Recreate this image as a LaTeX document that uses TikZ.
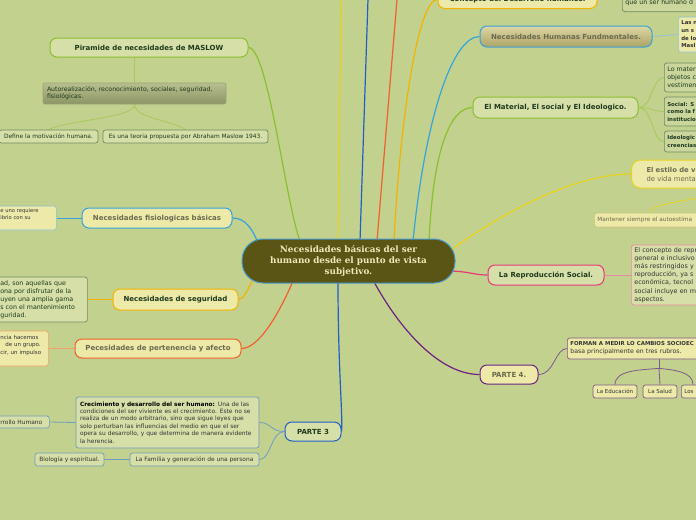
\documentclass[tikz,border=0pt]{standalone}
\usepackage{fontspec}
\setmainfont{DejaVu Sans}
\newfontfamily\cserif{DejaVu Serif}
\usetikzlibrary{calc}
\newcommand\myfs[2]{\fontsize{#1}{#2}\selectfont}
\definecolor{bgc}{HTML}{C3D18E}
\definecolor{lyel}{HTML}{ECE9A9}
\definecolor{lgrn}{HTML}{D6DFA7}
\definecolor{dgtxt}{HTML}{1E3A1E}
\definecolor{gtxt}{HTML}{6B6A4E}
\definecolor{dtxt}{HTML}{333333}
\definecolor{cgreen}{HTML}{8CBF30}
\definecolor{cgreen2}{HTML}{A6C95A}
\definecolor{cblue}{HTML}{36A3DA}
\definecolor{cdblue}{HTML}{1F5FC8}
\definecolor{cgold}{HTML}{F2B300}
\definecolor{cyel}{HTML}{E6D21E}
\definecolor{cored}{HTML}{F0602E}
\definecolor{cpink}{HTML}{E8387A}
\definecolor{cpurp}{HTML}{6B2380}
\definecolor{sgb}{HTML}{6F8B5E}
\definecolor{sbb}{HTML}{6E9EBE}
\definecolor{lbb}{HTML}{8CC4D8}
\definecolor{cor2}{HTML}{F0A466}
\definecolor{pinkl}{HTML}{E88AA4}
\definecolor{purl}{HTML}{7D5A8A}
\definecolor{matf}{HTML}{CAD69C}
\definecolor{cenf}{HTML}{5A5514}
\definecolor{cenb}{HTML}{4A9BD0}
\definecolor{centx}{HTML}{EEE8BA}
\definecolor{agt}{HTML}{B8BF8E}
\definecolor{agb}{HTML}{8C9564}
\definecolor{agd}{HTML}{9AA276}
\definecolor{nhft}{HTML}{DDD7A4}
\definecolor{nhfb}{HTML}{ACA367}
\definecolor{mantb}{HTML}{C8C27A}
\pgfdeclarelayer{bgl}
\pgfdeclarelayer{lines}
\pgfsetlayers{bgl,lines,main}
\tikzset{
 main/.style={line width=1.2pt},
 sec/.style={line width=0.8pt},
 topic/.style={draw, line width=1pt, rounded corners=7pt, inner sep=0pt, align=center, font=\bfseries\myfs{7}{8}},
 sub/.style={draw, line width=0.7pt, rounded corners=2.5pt, inner sep=0pt, align=center},
 txt/.style={draw, line width=0.7pt, rounded corners=2.5pt, inner xsep=3pt, inner ysep=1pt, align=left, anchor=west},
}
\begin{document}
\begin{tikzpicture}[x=1pt,y=-1pt]
\begin{pgfonlayer}{bgl}
\fill[bgc] (0,0) rectangle (696,520);
\end{pgfonlayer}
\useasboundingbox (0,0) rectangle (696,520);

% central node
\node[draw=cenb, fill=cenf, line width=1pt, rounded corners=21pt, minimum width=213, minimum height=44,
  text=centx, align=center, inner sep=0pt, font={\cserif\bfseries\myfs{8.8}{11}}] (c) at (348.5,261)
  {Necesidades básicas del ser\\humano desde el punto de vista\\subjetivo.};

% ---- left side
\node[topic, draw=cgreen, fill=lgrn, text=dgtxt, minimum width=198, minimum height=19] (maslow) at (149,47.5) {Piramide de necesidades de MASLOW};
\node[draw=agd, line width=0.6pt, rounded corners=2pt, top color=agt, bottom color=agb, minimum width=183, minimum height=21,
  text width=175, align=left, inner xsep=4pt, inner ysep=1pt, text=dgtxt, font=\myfs{6.2}{7.2}] (auto) at (134.5,93.5)
  {Autorealización, reconocimiento, sociales, seguridad,\\fisiológicas.};
\node[sub, draw=sgb, fill=lgrn, text=dgtxt, minimum width=99, minimum height=13, font=\myfs{5.9}{7}] (define) at (48.5,136.5) {Define la motivación humana.};
\node[sub, draw=sgb, fill=lgrn, text=dgtxt, minimum width=165, minimum height=13, font=\myfs{5.9}{7}] (teoria) at (185.5,136.5) {Es una teoria propuesta por Abraham Maslow 1943.};

\node[topic, draw=cblue, fill=lyel, text=gtxt, minimum width=150, minimum height=20] (fisio) at (157,218) {Necesidades fisiologicas básicas};
\node[txt, draw=lbb, fill=lyel, text=dtxt, text width=53, minimum height=24, font=\myfs{5.2}{7.4}] (fisiotxt) at (-3,218) {e uno requiere\\ibrio con su\\\mbox{}};

\node[topic, draw=cgold, fill=lyel, text=dgtxt, minimum width=125, minimum height=21] (seg) at (175.5,299.5) {Necesidades de seguridad};
\node[txt, draw=sgb, fill=lgrn, text=dgtxt, text width=84, minimum height=45, font=\myfs{6.3}{7.9}] (segtxt) at (-3,299.5)
  {ad, son aquellas que\\ona por disfrutar de la\\uyen una amplia gama\\s con el mantenimiento\\guridad.};

\node[topic, draw=cored, fill=lyel, text=gtxt, minimum width=166, minimum height=19] (pert) at (158,348.5) {Pecesidades de pertenencia y afecto};
\node[txt, draw=cor2, fill=lyel, text=dtxt, text width=45, minimum height=35, font=\myfs{5.5}{7.5}] (perttxt) at (-3,348.5)
  {ncia hacemos\\\hspace*{5pt}de un grupo.\\cir, un impulso\\\mbox{}};

\node[topic, draw=cdblue, fill=lgrn, text=dgtxt, minimum width=56, minimum height=19] (parte3) at (313,431.5) {PARTE 3};
\node[sub, draw=sbb, fill=lgrn, text=dtxt, minimum width=183, minimum height=51, text width=175, align=left, inner xsep=4pt,
  font=\myfs{5.9}{7.47}] (crec) at (167.5,422.5)
  {{\color{black}\bfseries\myfs{5.8}{7.47}Crecimiento y desarrollo del ser humano:} Una de las\\condiciones del ser viviente es el crecimiento. Este no se\\realiza de un modo arbitrario, sino que sigue leyes que\\solo perturban las influencias del medio en que el ser\\opera su desarrollo, y que determina de manera evidente\\la herencia.};
\node[sub, draw=sbb, fill=lgrn, text=dtxt, minimum width=129, minimum height=13, font=\myfs{5.9}{7}] (fam) at (194.5,459.5) {La Familia y generación de una persona};
\node[sub, draw=sbb, fill=lgrn, text=dtxt, minimum width=69, minimum height=13, font=\myfs{5.9}{7}] (bio) at (69.5,459.5) {Biología y espiritual.};
\node[txt, draw=sbb, fill=lgrn, text=dtxt, text width=46, minimum height=12, font=\myfs{5.9}{7}] (desh) at (-3,422) {rrollo Humano};

% ---- right side
\node[topic, draw=cgold, fill=lyel, text=dgtxt, minimum width=159, minimum height=18] (concepto) at (517.5,-0.5) {Concepto del Desarrollo humanos.};
\node[txt, anchor=south west, draw=sgb, fill=matf, text=dgtxt, text width=100, minimum height=26, font=\myfs{6.3}{8}] (toprt) at (622,12)
  {(evolución), mejorar\\que un ser humano d};

\node[topic, draw=cblue, top color=nhft, bottom color=nhfb, text=gtxt, minimum width=172, minimum height=21] (nhf) at (566,36.5) {Necesidades Humanas Fundmentales.};
\node[txt, draw=lbb, fill=lyel, text=dtxt, text width=60, minimum height=35, font=\bfseries\myfs{5.4}{7.7}] (nhftxt) at (678,34.5)
  {Las n\\un s\\de lo\\Masl};

\node[topic, draw=cgreen, fill=lgrn, text=dgtxt, minimum width=165, minimum height=21] (mat) at (555.5,107.5) {El Material, El social y El Ideologico.};
\node[txt, draw=sgb, fill=matf, text=dgtxt, text width=60, minimum height=29, font=\myfs{6.3}{8}] (mat1) at (664,77.5) {Lo mater\\objetos c\\vestimen};
\node[txt, draw=sgb, fill=matf, text=dgtxt, text width=60, minimum height=29, font=\bfseries\myfs{5.4}{7.5}] (mat2) at (664,111.5) {Social: S\\como la f\\institucio};
\node[txt, draw=sgb, fill=matf, text=dgtxt, text width=60, minimum height=21, font=\bfseries\myfs{5.4}{8}] (mat3) at (664,141.5) {Ideologic\\creencias};

\node[txt, draw=cyel, line width=1pt, rounded corners=9pt, fill=lyel, text=gtxt, text width=80, minimum height=28, inner xsep=15pt,
  font=\myfs{6.8}{9}] (estilo) at (631,174) {{\bfseries El estilo de v}\\de vida menta};
\node[txt, draw=mantb, fill=lyel, text=gtxt, text width=110, minimum height=14, font=\myfs{5.8}{7}] (mantener) at (594,220) {Mantener siempre el autoestima};

\node[topic, draw=cpink, fill=lgrn, text=dgtxt, minimum width=116, minimum height=20] (repro) at (546,275) {La Reproducción Social.};
\node[txt, draw=pinkl, fill=lgrn, text=dtxt, text width=80, minimum height=60, font=\myfs{6.4}{8.15}] (reprotxt) at (631,275)
  {El concepto de repr\\general e inclusivo\\más restringidos y\\reproducción, ya s\\económica, tecnol\\social incluye en m\\aspectos.};

\node[topic, draw=cpurp, fill=lyel, text=gtxt, minimum width=58, minimum height=19] (parte4) at (509,374.5) {PARTE 4.};
\node[txt, draw=purl, fill=lyel, text=dtxt, text width=150, minimum height=21, font=\myfs{6.2}{8}] (forman) at (567,348.5)
  {{\bfseries\myfs{5.4}{8}FORMAN A MEDIR LO CAMBIOS SOCIOEC}\\basa principalmente en tres rubros.};
\node[sub, draw=purl, fill=lyel, text=dtxt, minimum width=44, minimum height=13, font=\myfs{5.5}{7}] (edu) at (615,391.5) {La Educación};
\node[sub, draw=purl, fill=lyel, text=dtxt, minimum width=34, minimum height=13, font=\myfs{5.5}{7}] (salud) at (660,391.5) {La Salud};
\node[txt, draw=purl, fill=lyel, text=dtxt, text width=40, minimum height=13, font=\myfs{5.5}{7}] (los) at (681,391.5) {Los};

% off-canvas ends
\coordinate (offY) at (341.3,-10);
\coordinate (offB) at (368.3,-10);
\coordinate (offO) at (397.8,-10);
\coordinate (fb) at ($(forman.south west)+(92,9)$);

\begin{pgfonlayer}{lines}
\draw[main, cgreen] ($(c)+(-48.5,-20)$) .. controls (285,200) and (268,47.5) .. (maslow.east);
\draw[main, cblue] ($(c)+(-90,-17)$) .. controls (252,228) and (245,218) .. (fisio.east);
\draw[main, cgold] ($(c)+(-95,18)$) .. controls (247,290) and (244,299.5) .. (seg.east);
\draw[main, cored] ($(c)+(-55.5,20)$) .. controls (285,300) and (262,348.5) .. (pert.east);
\draw[main, cdblue] ($(c)+(-10.5,20)$) .. controls (338,370) and (343,415) .. (parte3.east);
\draw[main, cpurp] ($(c)+(24.5,19)$) .. controls (400,330) and (440,374.5) .. (parte4.west);
\draw[main, cyel] ($(c)+(-10.5,-20)$) -- (offY);
\draw[main, cdblue] ($(c)+(11.5,-20)$) -- (offB);
\draw[main, cored] ($(c)+(28.5,-20)$) -- (offO);
\draw[main, cgold] ($(c)+(45.5,-20)$) .. controls (400,120) and (418,-1) .. (concepto.west);
\draw[main, cblue] ($(c)+(64.5,-20)$) .. controls (425,120) and (452,36.5) .. (nhf.west);
\draw[main, cgreen] ($(c)+(80.5,-19)$) .. controls (433,150) and (450,107.5) .. (mat.west);
\draw[main, cyel] ($(c)+(101,-10)$) .. controls (520,200) and (585,174) .. (estilo.west);
\draw[main, cpink] ($(c)+(103,10)$) .. controls (472,272) and (474,275) .. (repro.west);

\draw[sec, cgreen2] (auto.north) -- (auto.north |- maslow.south);
\draw[sec, cgreen2] (auto.south) .. controls +(0,14) and +(20,-10) .. (define.north);
\draw[sec, cgreen2] (auto.south) .. controls +(0,14) and +(-15,-10) .. (teoria.north);
\draw[sec, cblue] (fisio.west) -- (fisiotxt.east);
\draw[sec, cgold] (seg.west) -- (segtxt.east);
\draw[sec, cor2] (pert.west) -- (perttxt.east);
\draw[sec, sbb] (parte3.west) .. controls +(-14,0) and +(12,0) .. (crec.east);
\draw[sec, sbb] (parte3.west) .. controls +(-14,0) and +(12,0) .. (fam.east);
\draw[sec, sbb] (crec.west) -- (desh.east);
\draw[sec, sbb] (fam.west) -- (bio.east);
\draw[sec, lbb] (nhf.east) -- (nhftxt.west);
\draw[sec, cgreen2] (mat.east) .. controls +(14,0) and +(-12,0) .. (mat1.west);
\draw[sec, cgreen2] (mat.east) .. controls +(14,0) and +(-12,0) .. (mat2.west);
\draw[sec, cgreen2] (mat.east) .. controls +(14,0) and +(-12,0) .. (mat3.west);
\draw[sec, cyel] ($(estilo.south west)+(90,0)$) .. controls +(-6,12) and +(0,-12) .. ($(mantener.north west)+(56,0)$);
\draw[sec, pinkl] (repro.east) -- (reprotxt.west);
\draw[sec, purl] (parte4.east) .. controls +(16,0) and +(-12,0) .. (forman.west);
\draw[sec, purl] ($(forman.south west)+(92,0)$) -- (fb);
\draw[sec, purl] (fb) .. controls (640,370) and (615,370) .. (edu.north);
\draw[sec, purl] (fb) -- (salud.north);
\draw[sec, purl] (fb) .. controls (675,370) and (693,372) .. ($(los.north west)+(12,0)$);
\end{pgfonlayer}
\end{tikzpicture}
\end{document}
